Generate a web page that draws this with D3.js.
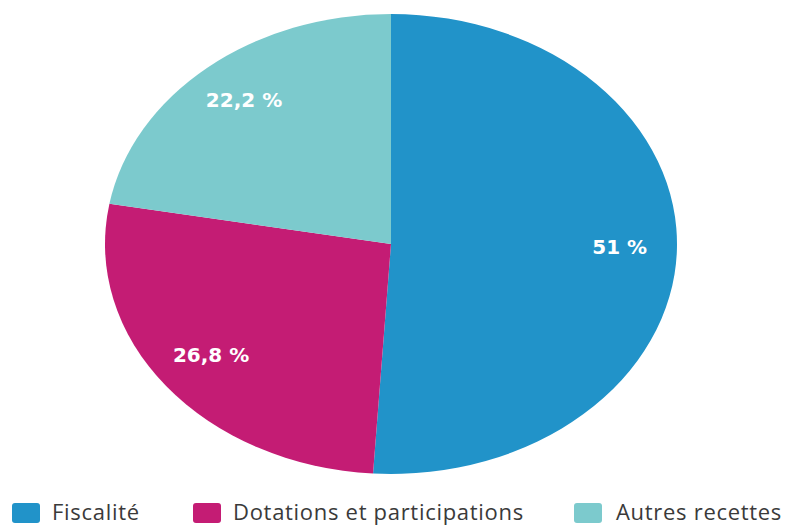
<!DOCTYPE html>
<html>
<head>
<meta charset="utf-8">
<script src="https://cdn.jsdelivr.net/npm/d3@7"></script>
<style>
  body { margin: 0; background: #fff; }
  svg { display: block; }
</style>
</head>
<body>
<div id="viz-container"></div>
<script>
const categories = ['Fiscalité', 'Dotations et participations', 'Autres recettes'];
const values = [51, 26.8, 22.2];
const labels = ['51 %', '26,8 %', '22,2 %'];
const colors = ['#2193c9', '#c41c74', '#7ccacd'];

const width = 798, height = 528;
const cx = 391, cy = 244, rx = 286, ry = 230;

const svg = d3.select('#viz-container')
  .append('svg')
  .attr('width', width)
  .attr('height', height);

const pie = d3.pie().sort(null).value(d => d)(values);
const arc = d3.arc().innerRadius(0).outerRadius(ry);
const labelArc = d3.arc().innerRadius(ry * 0.8).outerRadius(ry * 0.8);

const g = svg.append('g')
  .attr('transform', `translate(${cx},${cy}) scale(${rx / ry},1)`);

g.selectAll('path')
  .data(pie)
  .join('path')
  .attr('d', arc)
  .attr('fill', (d, i) => colors[i]);

svg.append('g')
  .selectAll('text')
  .data(pie)
  .join('text')
  .attr('x', d => cx + labelArc.centroid(d)[0] * rx / ry)
  .attr('y', d => cy + labelArc.centroid(d)[1] - 3)
  .attr('dy', '0.35em')
  .attr('text-anchor', 'middle')
  .attr('fill', '#fff')
  .style('font-family', 'DejaVu Sans, sans-serif')
  .style('font-weight', 700)
  .style('font-size', '20px')
  .text((d, i) => labels[i]);

// legend
const legendX = [12, 193, 574];
const legend = svg.append('g')
  .selectAll('g')
  .data(categories)
  .join('g')
  .attr('transform', (d, i) => `translate(${legendX[i]},503)`);
legend.append('rect')
  .attr('width', 28)
  .attr('height', 20)
  .attr('rx', 3)
  .attr('fill', (d, i) => colors[i]);
legend.append('text')
  .attr('x', (d, i) => i === 2 ? 42 : 40)
  .attr('y', 17)
  .attr('fill', '#3a3a3a')
  .style('font-family', 'Open Sans, sans-serif')
  .style('font-size', '22px')
  .style('letter-spacing', '0.7px')
  .text(d => d);
</script>
</body>
</html>
